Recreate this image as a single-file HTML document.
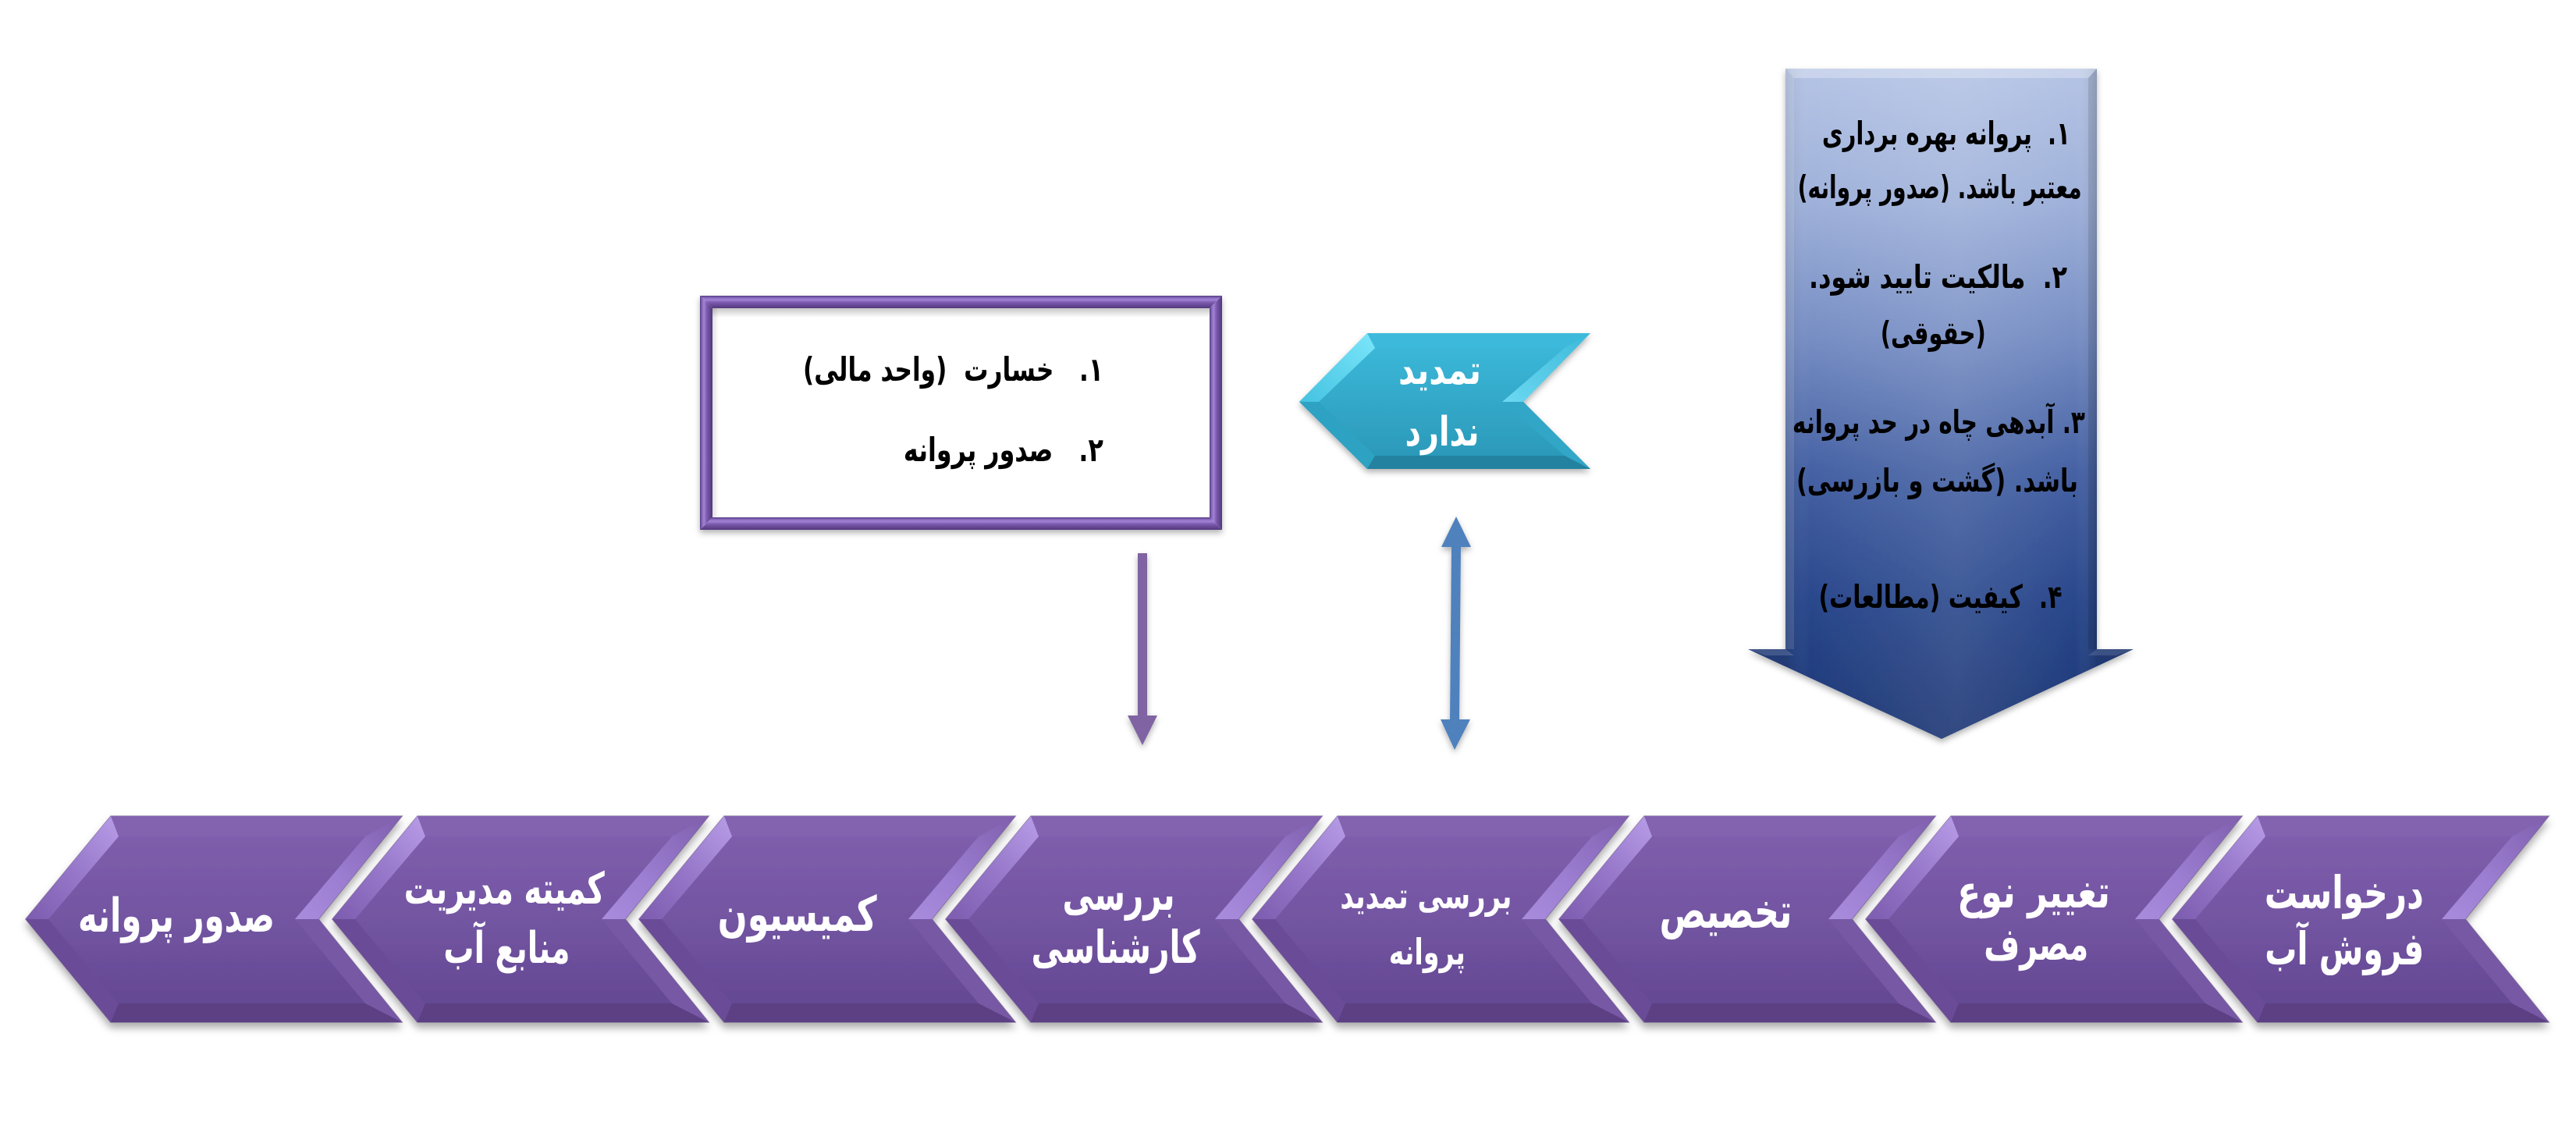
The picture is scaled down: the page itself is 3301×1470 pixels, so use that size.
<!DOCTYPE html>
<html>
<head>
<meta charset="utf-8">
<style>
html,body{margin:0;padding:0;background:#fff;}
body{width:3301px;height:1470px;overflow:hidden;position:relative;}
svg{position:absolute;left:0;top:0;}
.t{position:absolute;height:80px;line-height:80px;display:flex;justify-content:center;align-items:center;white-space:nowrap;direction:ltr;
font-family:"DejaVu Sans","Liberation Sans",sans-serif;font-weight:bold;}
.t span{display:inline-block;direction:rtl;unicode-bidi:embed;transform-origin:50% 50%;}
.r{justify-content:flex-end;}
.r span{transform-origin:100% 50%;}
.w{color:#fff;}
.k{color:#000;}
</style>
</head>
<body>
<svg width="3301" height="1470" viewBox="0 0 3301 1470" xmlns="http://www.w3.org/2000/svg">
<defs>
  <filter id="sh" x="-10%" y="-10%" width="120%" height="130%">
    <feDropShadow dx="0" dy="7" stdDeviation="5" flood-color="#000" flood-opacity="0.32"/>
  </filter>
  <filter id="sh2" x="-20%" y="-10%" width="140%" height="130%">
    <feDropShadow dx="0" dy="4" stdDeviation="4" flood-color="#000" flood-opacity="0.3"/>
  </filter>
  <linearGradient id="pBody" x1="0" y1="1046" x2="0" y2="1310" gradientUnits="userSpaceOnUse">
    <stop offset="0" stop-color="#8160ae"/>
    <stop offset="0.5" stop-color="#7355a2"/>
    <stop offset="1" stop-color="#614590"/>
  </linearGradient>
  <linearGradient id="pUL" x1="1" y1="0" x2="0" y2="1">
    <stop offset="0" stop-color="#b89de8"/>
    <stop offset="0.5" stop-color="#9677c9"/>
    <stop offset="1" stop-color="#7c5cae"/>
  </linearGradient>
  <linearGradient id="pUR" x1="1" y1="0" x2="0" y2="1">
    <stop offset="0" stop-color="#7f5fad"/>
    <stop offset="0.6" stop-color="#9c7ed2"/>
    <stop offset="1" stop-color="#a98cdc"/>
  </linearGradient>
  <linearGradient id="cBody" x1="0" y1="427" x2="0" y2="601" gradientUnits="userSpaceOnUse">
    <stop offset="0" stop-color="#3dbbdc"/>
    <stop offset="1" stop-color="#2a96b6"/>
  </linearGradient>
  <linearGradient id="cUL" x1="1" y1="0" x2="0" y2="1">
    <stop offset="0" stop-color="#7be6fa"/>
    <stop offset="1" stop-color="#44c2e1"/>
  </linearGradient>
  <linearGradient id="cUR" x1="1" y1="0" x2="0" y2="1">
    <stop offset="0" stop-color="#3cb9da"/>
    <stop offset="1" stop-color="#6cd8f1"/>
  </linearGradient>
  <linearGradient id="bArrow" x1="0" y1="88" x2="0" y2="947" gradientUnits="userSpaceOnUse">
    <stop offset="0" stop-color="#b5c4e5"/>
    <stop offset="0.2" stop-color="#9fb1da"/>
    <stop offset="0.4" stop-color="#778ec4"/>
    <stop offset="0.6" stop-color="#4662a4"/>
    <stop offset="0.8" stop-color="#29478b"/>
    <stop offset="1" stop-color="#1c3674"/>
  </linearGradient>
  <linearGradient id="bShine" x1="2288" y1="0" x2="2687" y2="0" gradientUnits="userSpaceOnUse">
    <stop offset="0" stop-color="#000" stop-opacity="0.10"/>
    <stop offset="0.08" stop-color="#fff" stop-opacity="0"/>
    <stop offset="0.55" stop-color="#fff" stop-opacity="0.10"/>
    <stop offset="0.75" stop-color="#fff" stop-opacity="0.05"/>
    <stop offset="0.93" stop-color="#fff" stop-opacity="0"/>
    <stop offset="1" stop-color="#000" stop-opacity="0.12"/>
  </linearGradient>
  <linearGradient id="frH" x1="0" y1="0" x2="0" y2="1">
    <stop offset="0" stop-color="#553a80"/>
    <stop offset="0.15" stop-color="#8465b8"/>
    <stop offset="0.32" stop-color="#a283d6"/>
    <stop offset="0.55" stop-color="#7a5aad"/>
    <stop offset="1" stop-color="#51377b"/>
  </linearGradient>
  <linearGradient id="frV" x1="0" y1="0" x2="1" y2="0">
    <stop offset="0" stop-color="#553a80"/>
    <stop offset="0.15" stop-color="#8465b8"/>
    <stop offset="0.32" stop-color="#a283d6"/>
    <stop offset="0.55" stop-color="#7a5aad"/>
    <stop offset="1" stop-color="#51377b"/>
  </linearGradient>
  <linearGradient id="inSh" x1="0" y1="0" x2="0" y2="1">
    <stop offset="0" stop-color="#000" stop-opacity="0.22"/>
    <stop offset="1" stop-color="#000" stop-opacity="0"/>
  </linearGradient>
  <linearGradient id="inShL" x1="0" y1="0" x2="1" y2="0">
    <stop offset="0" stop-color="#000" stop-opacity="0.12"/>
    <stop offset="1" stop-color="#000" stop-opacity="0"/>
  </linearGradient>

  <g id="chev">
    <polygon points="33,1178 142,1046 515,1046 408,1178 515,1310 142,1310" fill="url(#pBody)" stroke="#4e3672" stroke-width="1.5" stroke-opacity="0.6"/>
    <polygon points="142,1046 515,1046 468,1072 152,1072" fill="#8362b0"/>
    <polygon points="33,1178 142,1046 152,1072 62,1178" fill="url(#pUL)"/>
    <polygon points="33,1178 62,1178 152,1286 142,1310" fill="#6a4c97"/>
    <polygon points="142,1310 152,1286 468,1286 515,1310" fill="#5c4183"/>
    <polygon points="515,1046 408,1178 378,1178 468,1072" fill="url(#pUR)"/>
    <polygon points="408,1178 515,1310 468,1286 378,1178" fill="#7658a5"/>
  </g>
</defs>

<!-- Chevron row -->
<g filter="url(#sh)">
  <use href="#chev" x="0"/>
  <use href="#chev" x="393"/>
  <use href="#chev" x="786"/>
  <use href="#chev" x="1179"/>
  <use href="#chev" x="1572"/>
  <use href="#chev" x="1965"/>
  <use href="#chev" x="2358"/>
  <use href="#chev" x="2751"/>
</g>

<!-- Big blue down arrow -->
<g filter="url(#sh2)">
  <polygon points="2288,88 2687,88 2687,832 2734,832 2488,947 2240,832 2288,832" fill="url(#bArrow)"/>
  <polygon points="2288,88 2687,88 2687,832 2734,832 2488,947 2240,832 2288,832" fill="url(#bShine)"/>
  <polygon points="2288,88 2687,88 2676,100 2299,100" fill="#fff" fill-opacity="0.28"/>
  <polygon points="2288,88 2299,100 2299,832 2288,832" fill="#fff" fill-opacity="0.12"/>
  <polygon points="2687,88 2676,100 2676,832 2687,832" fill="#000" fill-opacity="0.10"/>
  <polygon points="2240,832 2288,832 2299,840 2262,840" fill="#fff" fill-opacity="0.15"/>
  <polygon points="2734,832 2687,832 2676,840 2712,840" fill="#fff" fill-opacity="0.12"/>
</g>

<!-- Cyan chevron -->
<g filter="url(#sh2)">
  <polygon points="1665,515 1752,427 2038,427 1952,515 2038,601 1752,601" fill="url(#cBody)"/>
  <polygon points="1752,427 2038,427 2005,446 1762,446" fill="#3cbadb"/>
  <polygon points="1665,515 1752,427 1762,446 1690,515" fill="url(#cUL)"/>
  <polygon points="1665,515 1690,515 1762,584 1752,601" fill="#2fa2c2"/>
  <polygon points="1752,601 1762,584 2005,584 2038,601" fill="#23829f"/>
  <polygon points="2038,427 1952,515 1925,515 2005,446" fill="url(#cUR)"/>
  <polygon points="1952,515 2038,601 2005,584 1925,515" fill="#32a6c6"/>
</g>

<!-- Purple framed box -->
<g filter="url(#sh2)">
  <rect x="897" y="379" width="669" height="300" fill="#fff"/>
  <polygon points="897,379 1566,379 1550,395 913,395" fill="url(#frH)"/>
  <polygon points="913,663 1550,663 1566,679 897,679" fill="url(#frH)"/>
  <polygon points="897,379 913,395 913,663 897,679" fill="url(#frV)"/>
  <polygon points="1566,379 1550,395 1550,663 1566,679" fill="url(#frV)"/>
</g>
<rect x="913" y="395" width="637" height="12" fill="url(#inSh)"/>
<rect x="913" y="395" width="8" height="268" fill="url(#inShL)"/>

<!-- Purple down arrow -->
<g filter="url(#sh2)">
  <rect x="1458" y="709" width="12" height="210" fill="#8064a2"/>
  <polygon points="1445,917 1483,917 1464,955" fill="#8064a2"/>
</g>

<!-- Blue double arrow -->
<g filter="url(#sh2)">
  <polygon points="1860,699 1872,699 1870,924 1858,924" fill="#4f81bd"/>
  <polygon points="1866,662 1885,701 1847,701" fill="#4f81bd"/>
  <polygon points="1846,922 1884,922 1864,961" fill="#4f81bd"/>
</g>
</svg>

<!-- Chevron labels -->
<div class="t w" style="left:100px;top:1134px;width:252px;font-size:60px;"><span>صدور پروانه</span></div>
<div class="t w" style="left:518px;top:1100px;width:257px;font-size:56px;"><span>کمیته مدیریت</span></div>
<div class="t w" style="left:568px;top:1176px;width:162px;font-size:56px;"><span>منابع آب</span></div>
<div class="t w" style="left:920px;top:1132px;width:204px;font-size:62px;"><span>کمیسیون</span></div>
<div class="t w" style="left:1361px;top:1106px;width:144px;font-size:58px;"><span>بررسی</span></div>
<div class="t w" style="left:1322px;top:1174px;width:216px;font-size:58px;"><span>کارشناسی</span></div>
<div class="t w" style="left:1717px;top:1108px;width:220px;font-size:46px;"><span>بررسی تمدید</span></div>
<div class="t w" style="left:1780px;top:1180px;width:98px;font-size:46px;"><span>پروانه</span></div>
<div class="t w" style="left:2126px;top:1128px;width:170px;font-size:62px;"><span>تخصیص</span></div>
<div class="t w" style="left:2508px;top:1103px;width:196px;font-size:58px;"><span>تغییر نوع</span></div>
<div class="t w" style="left:2542px;top:1170px;width:134px;font-size:58px;"><span>مصرف</span></div>
<div class="t w" style="left:2902px;top:1104px;width:204px;font-size:58px;"><span>درخواست</span></div>
<div class="t w" style="left:2902px;top:1176px;width:204px;font-size:58px;"><span>فروش آب</span></div>

<!-- Cyan chevron labels -->
<div class="t w" style="left:1792px;top:435px;width:106px;font-size:52px;"><span>تمدید</span></div>
<div class="t w" style="left:1800px;top:514px;width:95px;font-size:52px;"><span>ندارد</span></div>

<!-- Box labels -->
<div class="t k r" style="left:1029px;top:434px;width:385px;font-size:42px;"><span>۱.&nbsp;&nbsp;&nbsp;خسارت&nbsp;&nbsp;(واحد مالی)</span></div>
<div class="t k r" style="left:1158px;top:537px;width:256px;font-size:42px;"><span>۲.&nbsp;&nbsp;&nbsp;صدور پروانه</span></div>

<!-- Blue arrow labels -->
<div class="t k" style="left:2335px;top:131px;width:318px;font-size:41px;"><span>۱.&nbsp;&nbsp;پروانه بهره برداری</span></div>
<div class="t k" style="left:2304px;top:200px;width:364px;font-size:41px;"><span>معتبر باشد. (صدور پروانه)</span></div>
<div class="t k" style="left:2318px;top:315px;width:331px;font-size:41px;"><span>۲.&nbsp;&nbsp;مالکیت تایید شود.</span></div>
<div class="t k" style="left:2410px;top:387px;width:135px;font-size:41px;"><span>(حقوقی)</span></div>
<div class="t k" style="left:2297px;top:501px;width:375px;font-size:41px;"><span>۳. آبدهی چاه در حد پروانه</span></div>
<div class="t k" style="left:2302px;top:576px;width:361px;font-size:41px;"><span>باشد. (گشت و بازرسی)</span></div>
<div class="t k" style="left:2330px;top:725px;width:312px;font-size:41px;"><span>۴.&nbsp;&nbsp;کیفیت (مطالعات)</span></div>

<script>
(function(){
  var els=document.querySelectorAll('.t');
  for(var i=0;i<els.length;i++){
    var d=els[i], s=d.firstElementChild;
    var w=s.getBoundingClientRect().width;
    var tw=parseFloat(d.style.width);
    if(w>0&&tw>0){
      var k=tw/w;
      s.style.transform='scaleX('+k.toFixed(4)+')';
    }
  }
})();
</script>
</body>
</html>
